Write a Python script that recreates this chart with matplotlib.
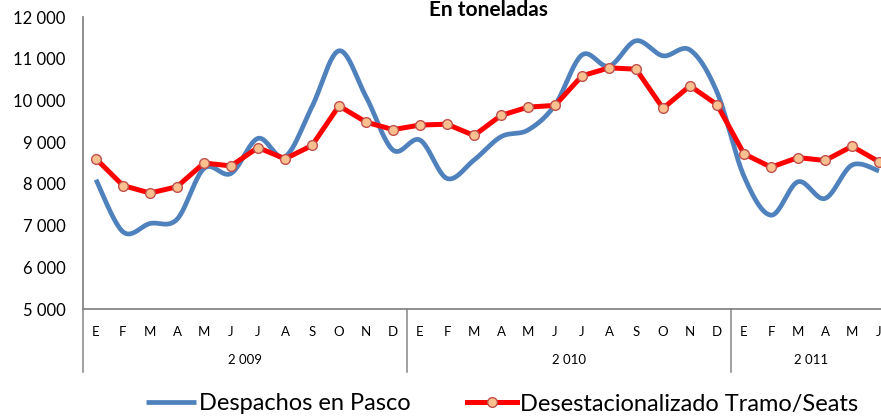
import matplotlib
matplotlib.use("Agg")
import matplotlib.pyplot as plt
import matplotlib.transforms as mtransforms
import numpy as np

plt.rcParams["font.family"] = ["Lato", "DejaVu Sans"]

# --- data (toneladas) ---
months = ["E", "F", "M", "A", "M", "J", "J", "A", "S", "O", "N", "D"] * 2 + ["E", "F", "M", "A", "M", "J"]
years = ["2 009", "2 010", "2 011"]
year_sizes = [12, 12, 6]

despachos = [8100, 6850, 7050, 7150, 8370, 8250, 9090, 8650, 9850, 11190, 10090, 8810,
             9050, 8130, 8570, 9130, 9290, 9890, 11090, 10820, 11430, 11070, 11210, 10200,
             8180, 7250, 8050, 7650, 8450, 8310]
desestacionalizado = [8600, 7960, 7780, 7930, 8500, 8430, 8870, 8600, 8920, 9870, 9480, 9300,
                      9410, 9430, 9160, 9640, 9840, 9880, 10590, 10780, 10750, 9810, 10350, 9900,
                      8720, 8400, 8630, 8560, 8900, 8530]

BLUE = "#4F81BD"
RED = "#FF0000"
GREY = "#868686"


def smooth_curve(x, y, steps=24):
    """Excel style smoothed line (Catmull-Rom as cubic Bezier)"""
    x = np.asarray(x, float)
    y = np.asarray(y, float)
    px = np.concatenate([[x[0]], x, [x[-1]]])
    py = np.concatenate([[y[0]], y, [y[-1]]])
    t = np.linspace(0, 1, steps)[:, None]
    xs, ys = [], []
    for i in range(len(x) - 1):
        p0 = np.array([px[i + 1], py[i + 1]])
        p3 = np.array([px[i + 2], py[i + 2]])
        c1 = p0 + (p3 - np.array([px[i], py[i]])) / 6
        c2 = p3 - (np.array([px[i + 3], py[i + 3]]) - p0) / 6
        pts = ((1 - t) ** 3) * p0 + 3 * ((1 - t) ** 2) * t * c1 + 3 * (1 - t) * t ** 2 * c2 + t ** 3 * p3
        xs.append(pts[:, 0])
        ys.append(pts[:, 1])
    return np.concatenate(xs), np.concatenate(ys)


W, H = 881, 416
fig = plt.figure(figsize=(W / 100, H / 100), dpi=100)
ax = fig.add_axes([82.5 / W, 1 - 309 / H, 810 / W, 292 / H])

x = np.arange(len(months))
sx, sy = smooth_curve(x, despachos)
ax.plot(sx, sy, color=BLUE, lw=3.4, solid_capstyle="butt", label="Despachos en Pasco", zorder=2)
ax.plot(x, desestacionalizado, color=RED, lw=3.6, marker="o", ms=7,
        mfc="#FAC090", mec="#C0504D", mew=1.0, label="Desestacionalizado Tramo/Seats", zorder=3)

ax.set_xlim(-0.5, len(months) - 0.5)
ax.set_ylim(5000, 12000)
ax.set_yticks(range(5000, 12001, 1000))
ax.set_yticklabels([f"{v:,}".replace(",", " ") for v in range(5000, 12001, 1000)], fontsize=12)
ax.tick_params(axis="y", length=0, pad=12)
ax.set_xticks(x)
ax.set_xticklabels(months, fontsize=9.5)
ax.tick_params(axis="x", length=0, pad=12)

for side in ["top", "right"]:
    ax.spines[side].set_visible(False)
for side in ["left", "bottom"]:
    ax.spines[side].set_color(GREY)
    ax.spines[side].set_linewidth(1.3)

# year groups below the month labels
trans = mtransforms.blended_transform_factory(ax.transData, ax.transAxes)
start = -0.5
for label, n in zip(years, year_sizes):
    ax.plot([start, start], [0, -63 / 292], color=GREY, lw=1.1, transform=trans, clip_on=False)
    ax.text(start + n / 2, -51 / 292, label, transform=trans, ha="center", va="center", fontsize=9.5)
    start += n
ax.plot([start, start], [0, -63 / 292], color=GREY, lw=1.1, transform=trans, clip_on=False)

fig.text(488 / W, 1 - 16 / H, "En toneladas", ha="center", va="baseline",
         fontsize=15, fontweight="bold")

fig.legend(loc="center", bbox_to_anchor=(502 / W, 1 - 404 / H), ncol=2, frameon=False,
           fontsize=17, handlelength=2.1, handletextpad=0.12, columnspacing=2.4,
           borderpad=0, borderaxespad=0)

fig.savefig("out.png", dpi=100)
